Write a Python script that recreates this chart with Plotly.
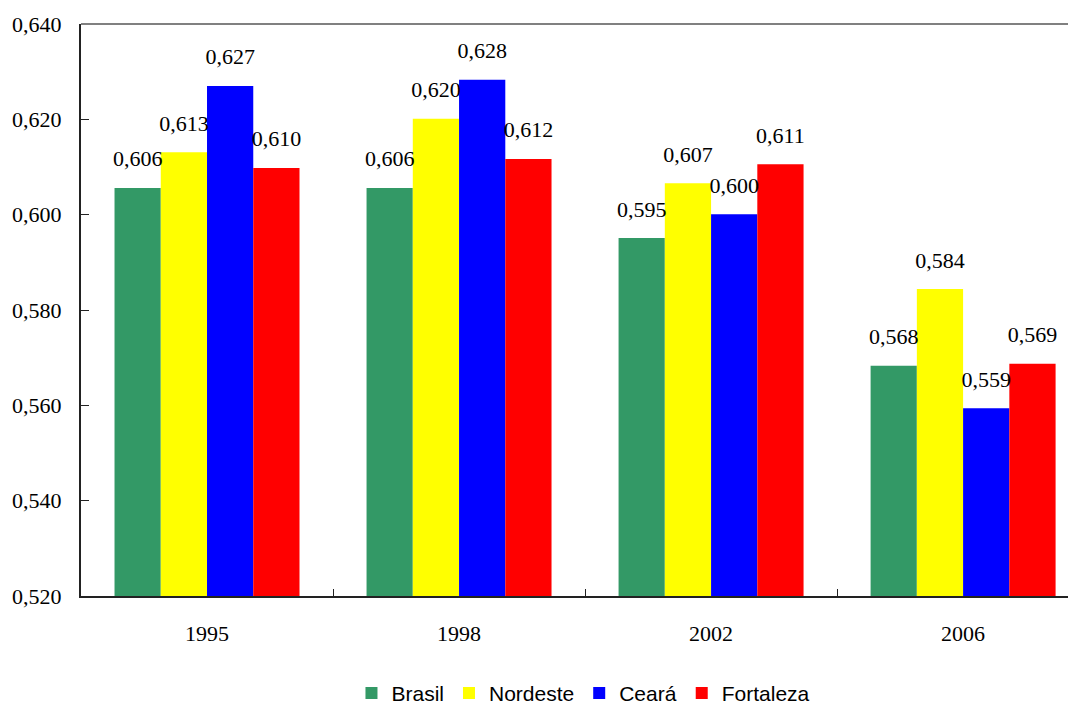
import plotly.graph_objects as go

years = ["1995", "1998", "2002", "2006"]
series_names = ["Brasil", "Nordeste", "Ceará", "Fortaleza"]
brasil = [0.6056, 0.6056, 0.5951, 0.5683]
nordeste = [0.6131, 0.6201, 0.6066, 0.5844]
ceara = [0.6270, 0.6283, 0.6001, 0.5594]
fortaleza = [0.6098, 0.6117, 0.6106, 0.5687]
colors = ["#339966", "#FFFF00", "#0000FF", "#FF0000"]
y_ticks = [0.52, 0.54, 0.56, 0.58, 0.60, 0.62, 0.64]

serif = "Liberation Serif"


def fmt(v):
    return f"{v:.3f}".replace(".", ",")


fig = go.Figure()
all_vals = [brasil, nordeste, ceara, fortaleza]
for name, vals, col in zip(series_names, all_vals, colors):
    fig.add_trace(go.Bar(
        x=years, y=vals, name=name, offsetgroup=name,
        marker=dict(color=col, line=dict(width=0)),
    ))
for name, vals in zip(series_names, all_vals):
    fig.add_trace(go.Scatter(
        x=years, y=vals, offsetgroup=name, showlegend=False,
        mode="markers+text",
        marker=dict(size=24, opacity=0),
        text=[fmt(v) for v in vals],
        textposition="top center",
        textfont=dict(family=serif, size=22, color="black"),
        cliponaxis=False, hoverinfo="skip",
    ))

fig.update_layout(
    width=1068, height=696,
    margin=dict(l=73, r=0, t=16, b=108, autoexpand=False),
    plot_bgcolor="white", paper_bgcolor="white",
    barmode="group", bargap=0.266, bargroupgap=0,
    scattermode="group", scattergap=0.266,
    showlegend=True,
    legend=dict(orientation="h", x=0.505, xanchor="center", y=-0.17, yanchor="middle",
                font=dict(family="Liberation Sans", size=21, color="black"),
                itemwidth=30, tracegroupgap=0),
    font=dict(family=serif, size=22, color="black"),
)
fig.update_xaxes(
    type="category", range=[-0.5, 3.448], automargin=False,
    showline=True, linecolor="#222222", linewidth=2,
    ticks="inside", ticklen=7, tickcolor="#222222", tickson="boundaries",
    showgrid=False, ticklabelstandoff=17,
    tickfont=dict(family=serif, size=22, color="black"),
)
fig.update_yaxes(
    range=[0.52, 0.64], tickvals=y_ticks, ticktext=[fmt(v) for v in y_ticks],
    automargin=False,
    showline=True, linecolor="#222222", linewidth=2,
    ticks="inside", ticklen=8, tickcolor="#222222",
    showgrid=False, zeroline=False, ticklabelstandoff=13,
    tickfont=dict(family=serif, size=22, color="black"),
)
fig.add_shape(type="line", xref="paper", yref="paper", x0=0, x1=1, y0=1, y1=1,
              line=dict(color="#808080", width=2))

fig.write_html("out.html")
